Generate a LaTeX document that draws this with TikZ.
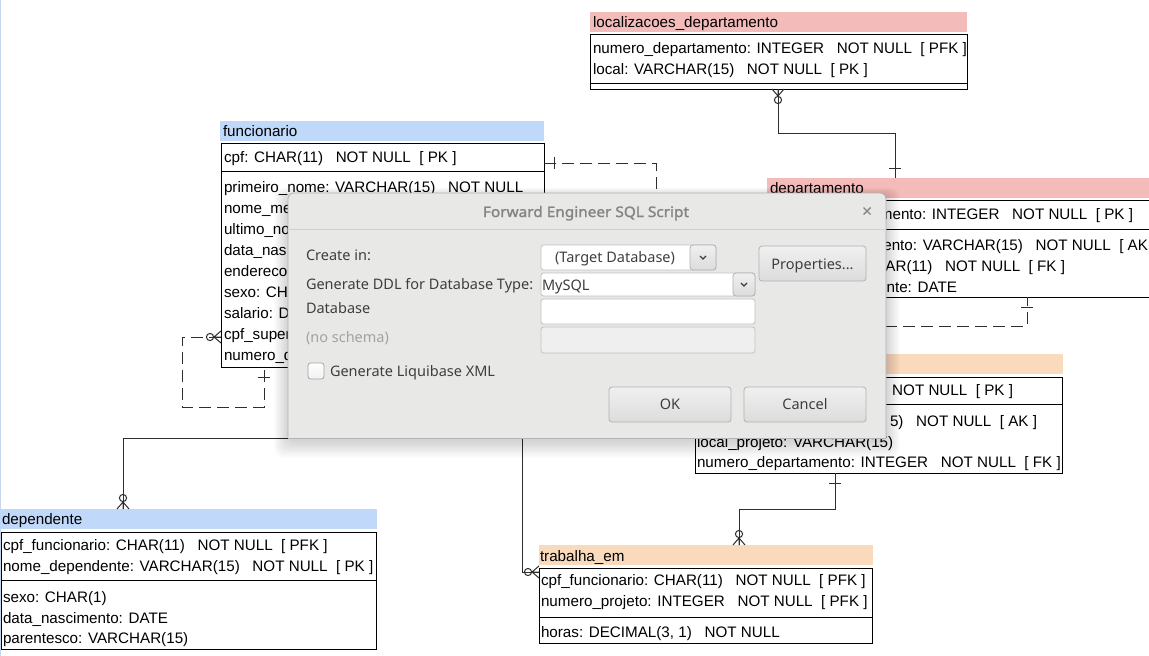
\documentclass[tikz,border=0pt]{standalone}
\usepackage{fontspec}
\setmainfont{Liberation Sans}
\newfontfamily\dlgfamily{Noto Sans}
\newfontfamily\dlgtitlefamily{Noto Sans}[FakeBold=1.6, FakeStretch=1.06]
\usetikzlibrary{calc}

% table and dialog colours
\definecolor{hdrpink}{HTML}{F4BBBB}
\definecolor{hdrblue}{HTML}{C0D8FA}
\definecolor{hdrorange}{HTML}{FADABC}
\definecolor{lineclr}{HTML}{2E2E2E}
\definecolor{edgeblue}{HTML}{C6D6EE}
\definecolor{dlgbg}{HTML}{E8E8E7}
\definecolor{dlgedge}{HTML}{B4B4B4}
\definecolor{dlgsep}{HTML}{CFCFCF}
\definecolor{dlglabel}{HTML}{3E3E3E}
\definecolor{dlgtitle}{HTML}{858585}
\definecolor{dlgdim}{HTML}{A2A2A2}
\definecolor{btntop}{HTML}{F0F0F0}
\definecolor{btnbot}{HTML}{DCDCDC}
\definecolor{btnedge}{HTML}{B2B2B2}
\definecolor{fieldedge}{HTML}{C2C2C2}
\definecolor{fielddim}{HTML}{EFEFEF}

\newcommand\colfont{\fontsize{15.2}{18}\selectfont}
\newcommand\dlgtext{\dlgfamily\fontsize{14.5}{17}\selectfont}

\begin{document}
\begin{tikzpicture}[x=1pt,y=-1pt,
  every node/.style={inner sep=0pt, outer sep=0pt},
  rel/.style={draw=lineclr, line width=1pt},
  nonid/.style={rel, dash pattern=on 12pt off 6pt},
  hdr/.style={fill=#1, anchor=north west, minimum height=20pt},
  tbl/.style={draw=black, line width=1pt, fill=white, anchor=north west},
  col/.style={anchor=base west, font=\colfont, text=black},
  colr/.style={anchor=base east, font=\colfont, text=black},
  sepline/.style={draw=black, line width=1pt},
  crowopt/.pic={
    \draw[rel] (0,-6) -- (7,0) -- (0,6) (0,0) -- (7,0);
    \draw[rel] (11,0) circle[radius=3.6];
  },
  onetick/.pic={\draw[rel] (10,-6) -- (10,6);},
  btn/.style={draw=btnedge, line width=0.8pt, rounded corners=3pt,
    top color=btntop, bottom color=btnbot, anchor=north west},
  field/.style={draw=fieldedge, line width=0.8pt, rounded corners=2.5pt,
    fill=#1, anchor=north west},
  lbl/.style={anchor=base west, font=\dlgtext, text=dlglabel},
  lblc/.style={anchor=base, font=\dlgtext, text=dlglabel},
]
\useasboundingbox (0,0) rectangle (1149,656);
\clip (0,0) rectangle (1149,656);
\fill[white] (0,0) rectangle (1149,656);
\draw[edgeblue, line width=1.2pt] (0.6,0) -- (0.6,656);

% ---------- tables ----------
% localizacoes_departamento
\node[hdr=hdrpink, minimum width=377pt] (locH) at (590,12) {};
\node[col] (locT) at (593,27) {localizacoes\_departamento};
\node[tbl, minimum width=377pt, minimum height=55pt] (locB) at (590,34) {};
\draw[sepline] (locB.west |- 0,83) -- (locB.east |- 0,83);
\node[col] (loc1) at (593,53) {numero\_departamento: INTEGER~~~NOT NULL~~[ PFK ]};
\node[col] (loc2) at (593,74) {local: VARCHAR(15)~~~NOT NULL~~[ PK ]};

% funcionario
\node[hdr=hdrblue, minimum width=324pt] (funcH) at (220,121) {};
\node[col] (funcT) at (223,136) {funcionario};
\node[tbl, minimum width=323pt, minimum height=224pt] (funcB) at (221,143) {};
\draw[sepline] (funcB.west |- 0,171) -- (funcB.east |- 0,171);
\node[col] (f0) at (224,162) {cpf: CHAR(11)~~~NOT NULL~~[ PK ]};
\node[col] (f1) at (224,192) {primeiro\_nome: VARCHAR(15)~~~NOT NULL};
\node[col] (f2) at (224,213) {nome\_me};
\node[col] (f3) at (224,234) {ultimo\_no};
\node[col] (f4) at (224,255) {data\_nas};
\node[col] (f5) at (224,276) {endereco};
\node[col] (f6) at (224,297) {sexo: CHA};
\node[col] (f7) at (224,318) {salario: D};
\node[col] (f8) at (224,339) {cpf\_super};
\node[col] (f9) at (224,360) {numero\_d};

% departamento
\node[hdr=hdrpink, minimum width=400pt] (depH) at (767,178) {};
\node[col] (depT) at (770,193) {departamento};
\node[tbl, minimum width=400pt, minimum height=97pt] (depB) at (768,200) {};
\draw[sepline] (depB.west |- 0,229) -- (depB.east |- 0,229);
\node[colr] (d1) at (1133,219) {mento: INTEGER~~~NOT NULL~~[ PK ]};
\node[colr] (d2) at (1148,250) {ento: VARCHAR(15)~~~NOT NULL~~[ AK};
\node[colr] (d3) at (1065,271) {AR(11)~~~NOT NULL~~[ FK ]};
\node[colr] (d4) at (957,292) {nte: DATE};

% projeto
\node[hdr=hdrorange, minimum width=367pt] (projH) at (696,354) {};
\node[tbl, minimum width=367pt, minimum height=96pt] (projB) at (695,377) {};
\draw[sepline] (projB.west |- 0,404) -- (projB.east |- 0,404);
\node[colr] (p1) at (1013,395) {NOT NULL~~[ PK ]};
\node[colr] (p2) at (1037,426) {5)~~~NOT NULL~~[ AK ]};
\node[col] (p3) at (697,447) {local\_projeto: VARCHAR(15)};
\node[col] (p4) at (697,467) {numero\_departamento: INTEGER~~~NOT NULL~~[ FK ]};

% dependente
\node[hdr=hdrblue, minimum width=377pt] (dpnH) at (0,509) {};
\node[col] (dpnT) at (2,524) {dependente};
\node[tbl, minimum width=375pt, minimum height=117pt] (dpnB) at (1,532) {};
\draw[sepline] (dpnB.west |- 0,580) -- (dpnB.east |- 0,580);
\node[col] (n1) at (3,550) {cpf\_funcionario: CHAR(11)~~~NOT NULL~~[ PFK ]};
\node[col] (n2) at (3,571) {nome\_dependente: VARCHAR(15)~~~NOT NULL~~[ PK ]};
\node[col] (n3) at (3,602) {sexo: CHAR(1)};
\node[col] (n4) at (3,623) {data\_nascimento: DATE};
\node[col] (n5) at (3,643) {parentesco: VARCHAR(15)};

% trabalha_em
\node[hdr=hdrorange, minimum width=334pt] (trabH) at (539,545) {};
\node[col] (trabT) at (540,561) {trabalha\_em};
\node[tbl, minimum width=333pt, minimum height=75pt] (trabB) at (539,568) {};
\draw[sepline] (trabB.west |- 0,617) -- (trabB.east |- 0,617);
\node[col] (t1) at (541,585) {cpf\_funcionario: CHAR(11)~~~NOT NULL~~[ PFK ]};
\node[col] (t2) at (541,606) {numero\_projeto: INTEGER~~~NOT NULL~~[ PFK ]};
\node[col] (t3) at (541,637) {horas: DECIMAL(3, 1)~~~NOT NULL};

% ---------- relationships ----------
\draw[rel] (locB.south -| 778,0) |- (895,133) -- (depH.north -| 895,0);
\pic[rotate=-90] at (locB.south -| 778,0) {crowopt};
\pic[rotate=90] at (depH.north -| 895,0) {onetick};

\draw[nonid] (funcB.east |- 0,163) -| (656,326) -| (depB.south -| 1027,0);
\pic at (funcB.east |- 0,163) {onetick};
\pic[rotate=-90] at (depB.south -| 1027,0) {onetick};

\draw[nonid] (funcB.west |- 0,337) -| (182,407) -| (funcB.south -| 264,0);
\pic[rotate=180] at (funcB.west |- 0,337) {crowopt};
\pic[rotate=-90] at (funcB.south -| 264,0) {onetick};

\draw[rel] (funcB.south -| 387,0) |- (123,438) -- (dpnH.north -| 123,0);
\pic[rotate=90] at (dpnH.north -| 123,0) {crowopt};

\draw[rel] (funcB.south -| 522,0) |- (trabB.west |- 0,572);
\pic[rotate=180] at (trabB.west |- 0,572) {crowopt};

\draw[rel] (projB.south -| 835,0) |- (739,509) -- (trabH.north -| 739,0);
\pic[rotate=-90] at (projB.south -| 835,0) {onetick};
\pic[rotate=90] at (trabH.north -| 739,0) {crowopt};

% ---------- dialog ----------
\foreach \i in {1,...,14} {
  \fill[black, opacity=0.011, rounded corners=9pt]
    (288-\i,196-0.6*\i) rectangle (886+\i,441+1.2*\i);
}
\fill[dlgbg, rounded corners=6pt] (288,193) rectangle (886,438);
\fill[dlgbg] (288,220) rectangle (886,438);
\draw[dlgedge, line width=0.8pt, rounded corners=6pt] (288,438) -- (288,193) -- (886,193) -- (886,438);
\draw[dlgedge, line width=1pt] (288,438) -- (886,438);
\draw[dlgsep, line width=1pt] (289,229) -- (885,229);

\node[anchor=base, font=\dlgtitlefamily\fontsize{14.5}{17}\selectfont, text=dlgtitle] (title) at (586,217) {Forward Engineer SQL Script};
\draw[dlgtitle, line width=1.4pt] (863.5,207.5) -- (870.5,214.5) (863.5,214.5) -- (870.5,207.5);

\node[lbl] (lcreate) at (306,260) {Create in:};
\node[lbl] (lddl) at (306,289) {Generate DDL for Database Type:};
\node[lbl] (ldb) at (306,313) {Database};
\node[lbl, text=dlgdim] (lschema) at (306,342) {(no schema)};

% target combo
\node[field=white, minimum width=175pt, minimum height=25pt] (cb1) at (541,245) {};
\node[btn, minimum width=26pt, minimum height=25pt] (cb1b) at (690,245) {};
\node[lblc] (cb1t) at (615,262) {(Target Database)};
\draw[dlglabel, line width=1.2pt] ($(cb1b.center)+(-3,-1.5)$) -- ($(cb1b.center)+(0,1.5)$) -- ($(cb1b.center)+(3,-1.5)$);

% database type combo
\node[field=white, minimum width=214pt, minimum height=23pt] (cb2) at (541,273) {};
\node[btn, minimum width=22pt, minimum height=23pt] (cb2b) at (733,273) {};
\node[lbl] (cb2t) at (542,290) {MySQL};
\draw[dlglabel, line width=1.2pt] ($(cb2b.center)+(-3,-1.5)$) -- ($(cb2b.center)+(0,1.5)$) -- ($(cb2b.center)+(3,-1.5)$);

% entries
\node[field=white, minimum width=214pt, minimum height=25pt] (edb) at (541,299) {};
\node[field=fielddim, minimum width=214pt, minimum height=26pt] (eschema) at (541,327) {};

% properties button
\node[btn, minimum width=107pt, minimum height=35pt] (bprop) at (759,246) {};
\node[lblc] (bpropt) at (812.5,269) {Properties...};

% checkbox
\node[btn, rounded corners=2.5pt, top color=white, bottom color=btntop, draw=dlgdim, minimum width=16pt, minimum height=16pt] (chk) at (308,363) {};
\node[lbl] (chkt) at (330,376) {Generate Liquibase XML};

% ok and cancel
\node[btn, minimum width=122pt, minimum height=35pt] (bok) at (609,387) {};
\node[lblc] (bokt) at (670,409.5) {OK};
\node[btn, minimum width=122pt, minimum height=35pt] (bcancel) at (744,387) {};
\node[lblc] (bcancelt) at (805,409.5) {Cancel};
\end{tikzpicture}
\end{document}
